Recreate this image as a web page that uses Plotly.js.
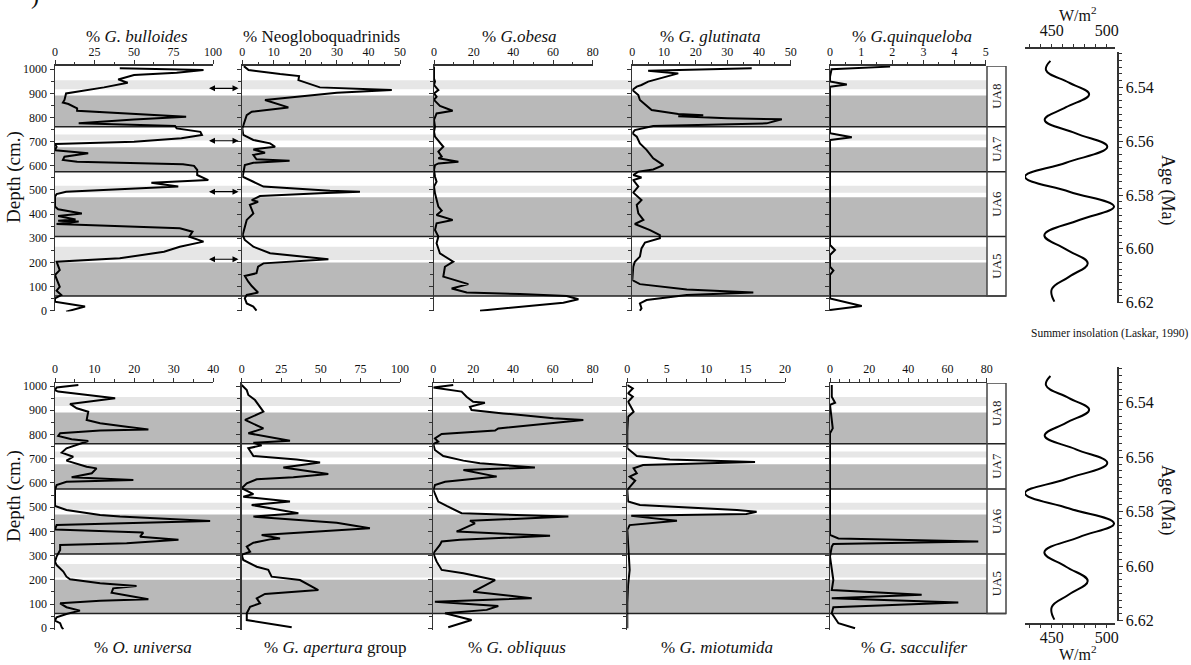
<!DOCTYPE html>
<html><head><meta charset="utf-8">
<script src="https://cdn.plot.ly/plotly-3.0.1.min.js"></script>
<style>html,body{margin:0;padding:0;background:#fff}#chart{width:1191px;height:665px}</style>
</head><body><div id="chart"></div>
<script>
// ---- data: [depth (cm), percent] ----
const bulloides = [[1004,41],[997,94],[986,77],[976,50],[958,40],[944,46],[925,31],[911,19],[900,7],[873,6],[862,5],[856,8.5],[838,14],[828,14],[806,75],[803,83],[792,50],[776,15],[765,76],[755,77],[741,92],[728,93],[714,80],[700,50],[690,0],[679,1],[665,0],[652,21],[638,6],[624,5],[617,14],[613,39],[607,81],[600,88],[583,90],[562,90],[555,92],[541,97],[530,61],[514,78],[493,7],[483,1],[472,0],[431,0],[420,2],[403,17],[392,2],[378,13],[373,2],[369,15],[359,1],[341,79],[327,87],[306,85],[286,94],[265,79],[244,69],[217,41],[203,1],[168,3],[148,0],[99,3],[83,1],[65,4],[51,0],[37,0],[17,19],[-4,7]];
const neoglobo = [[1013,0.5],[997,2],[980,12],[972,18],[955,17.8],[949,19.3],[925,24.6],[917,40.5],[914,47.4],[903,30],[873,7.2],[842,14.6],[824,3],[810,1.4],[769,0.3],[755,0],[728,0.3],[707,3.5],[693,8.8],[679,10.4],[668,3.5],[654,7.2],[645,3.5],[627,4.5],[621,15],[613,3.5],[603,0.8],[576,0.3],[555,0.1],[534,3.5],[514,6.7],[497,27.8],[493,37.3],[486,24.6],[475,5.6],[458,3],[451,5],[438,2.4],[403,3.5],[376,1.4],[348,0.8],[313,0.1],[293,0.8],[265,3.5],[238,8.8],[217,23.6],[213,27.3],[196,6.7],[182,5],[155,4.5],[144,0.8],[120,1.9],[102,3],[75,5],[65,1.4],[51,0.8],[30,1.4],[17,3.5],[0,4.5]];
const obesa = [[1011,0],[962,0],[949,0.5],[935,0],[914,2.2],[900,0],[886,1.3],[873,0],[848,3],[828,9.4],[817,1.3],[790,0],[762,0.5],[741,0],[721,0.5],[693,3],[679,4.7],[659,2.2],[638,3.9],[631,2.2],[617,12.3],[610,2.2],[603,0.5],[583,0],[555,0.5],[534,1.3],[514,0],[486,0.5],[458,1.3],[431,2.2],[414,3.9],[396,1.3],[376,9.4],[362,1.3],[334,0.5],[307,2.2],[279,1.3],[237,3],[203,9.7],[182,5.5],[141,4.7],[110,17.3],[92,8.9],[75,16.5],[69,43.4],[61,66.9],[47,72.8],[33,65.2],[0,23.2]];
const glutinata = [[1004,37.7],[994,5],[983,14.5],[962,8.7],[949,5],[935,2.9],[928,1.4],[914,0],[911,0.3],[893,1.9],[873,2.4],[848,4.5],[831,6.1],[815,14.5],[810,22.4],[805,14.5],[797,30],[793,47.2],[776,42.4],[765,6.6],[748,0.8],[735,0],[721,1.4],[693,2.4],[666,4.5],[631,6.6],[603,9.8],[585,6.6],[576,1.9],[562,0.3],[552,2.9],[541,0.3],[514,1.9],[489,0.3],[458,2.9],[438,1.4],[403,1.9],[376,3.5],[359,0.8],[334,5.6],[313,8.7],[300,8.7],[282,4],[258,2.9],[224,2.4],[203,0.8],[182,0.3],[127,0],[110,2.4],[88,17.2],[75,38.2],[65,17.2],[44,4.5],[30,2.4],[10,2.9],[0,2.4]];
const quinqueloba = [[1011,1.93],[1000,0.05],[969,0],[949,0],[937,0.54],[928,0],[735,0],[718,0.7],[707,0],[272,0],[251,0.16],[231,0],[182,0],[166,0.11],[148,0],[51,0],[19,1.02],[3,0]];
const universa = [[1004,5.9],[994,0.4],[983,0],[977,0.8],[949,15.2],[926,3.8],[908,5.5],[894,8.4],[860,8],[846,11.4],[832,18.1],[821,23.6],[816,11.4],[805,1.3],[794,0.8],[780,4.2],[773,8.4],[752,4.2],[743,2.9],[725,1.7],[708,4.6],[692,2.9],[667,8],[660,10.5],[640,9.3],[623,4.2],[612,19.8],[605,2.9],[591,0.4],[571,0],[505,0],[488,2.9],[468,11.4],[461,16.4],[443,39.2],[426,0.4],[408,0],[395,22.3],[378,21.5],[365,31.2],[351,18.1],[344,1.3],[323,1.3],[296,0.4],[275,0],[261,0.4],[234,2.1],[213,2.9],[202,3.8],[186,11.4],[175,20.6],[165,14.7],[147,14.3],[120,23.6],[114,11.4],[103,1.3],[87,2.9],[73,6.3],[59,2.9],[45,0.4],[32,0],[21,1.3],[4,1.7],[-4,2.1]];
const apertura = [[1004,0],[983,3.2],[963,4.2],[942,8.4],[894,13.7],[860,2.1],[825,13.7],[805,4.2],[774,30.5],[766,7.4],[755,12.6],[743,4.2],[711,7.4],[697,34.7],[684,49.5],[664,26.3],[637,54.7],[623,32.6],[615,9.5],[598,3.2],[578,0],[554,7.4],[543,1],[523,30.5],[509,6.3],[475,35.8],[461,7.4],[436,60],[413,81],[385,12.6],[371,24.2],[367,17.9],[353,7.4],[337,3.2],[316,5.3],[303,0],[282,1],[254,9.5],[241,16.8],[213,18.9],[199,36.8],[158,48.4],[142,14.7],[124,9.5],[103,11.6],[89,5.3],[62,3.2],[34,3.2],[4,31.6]];
const obliquus = [[1004,10],[994,0],[977,14.2],[956,16.7],[935,20],[931,25.9],[914,18.4],[901,19.2],[887,35.1],[867,60.3],[860,75.3],[825,32.6],[816,31],[802,4.2],[784,0.8],[770,2.5],[761,0],[736,0.8],[711,5],[692,15.1],[681,23.4],[664,51],[653,15.1],[626,31.8],[605,5.9],[591,0.8],[571,0],[523,2.5],[505,6.7],[475,14.2],[461,67.8],[444,18.4],[433,20.9],[399,11.7],[382,58.6],[365,13.4],[358,4.2],[344,3.3],[309,0],[275,1.7],[241,4.2],[227,15.1],[199,31],[151,20.1],[124,49.4],[110,0.8],[92,32.6],[76,26.8],[62,5.9],[34,19.2],[4,7.5]];
const miotumida = [[1004,0],[990,0.7],[970,0.1],[956,0.7],[935,0.1],[894,0.8],[873,0.1],[812,0],[743,0],[711,1.2],[697,5.4],[686,16.2],[674,2],[660,0.8],[640,1.2],[626,0.3],[609,1],[591,0.5],[571,0],[523,0.1],[509,1.6],[488,13.9],[481,16.4],[472,15.1],[464,0.5],[444,6.3],[426,0.3],[406,0],[241,0.3],[179,0.1],[103,0],[0,0]];
const sacculifer = [[1004,0.9],[956,0.9],[931,2.6],[922,0],[860,0.9],[825,1.4],[805,0],[653,0],[385,0],[371,4.3],[358,75.7],[348,1.7],[337,0.9],[296,0],[199,1.7],[158,0.9],[138,46.8],[124,0.9],[106,65.5],[87,1.7],[62,0.9],[21,4.3],[0,12.8]];
// summer insolation (Laskar 1990)
const insoAge = [6.5302,6.5336,6.5383,6.5426,6.5474,6.5521,6.5571,6.5621,6.568,6.5732,6.5788,6.5843,6.5893,6.5949,6.6002,6.6054,6.6103,6.6150,6.6196];
const insoW   = [448.8,444.8,465.7,484,463,443.6,472,500.5,463,425.7,466,506.6,475,443.3,463,482.7,466,450,452.4];
// units / bands (depth cm)
const unitNames = ['UA5','UA6','UA7','UA8'];
const unitBounds = [61,307,575,762];
const lightBands = [[917,955],[705,730],[489,518],[210,265]];
const darkBands = [[762,891],[575,677],[307,470],[61,200]];
const arrowDepths = [921,704,493,213];

const W=1191,H=665;
const px=x=>x/W, py=y=>1-y/H;
const FONT='Liberation Serif, Times New Roman, serif';

const panels=[
 {d:bulloides,x0:55,x1:213,max:100,dt:25,mdt:12.5,t:'% <i>G. bulloides</i>',tx:137},
 {d:neoglobo,x0:242.3,x1:400,max:50,dt:10,mdt:5,t:'% Neogloboquadrinids',tx:321},
 {d:obesa,x0:434,x1:592.7,max:80,dt:20,mdt:10,t:'% <i>G.obesa</i>',tx:519},
 {d:glutinata,x0:632.3,x1:790.7,max:50,dt:10,mdt:5,t:'% <i>G. glutinata</i>',tx:710},
 {d:quinqueloba,x0:830,x1:985.7,max:5,dt:1,mdt:0.5,t:'% <i>G.quinqueloba</i>',tx:912},
 {d:universa,x0:55,x1:213.3,max:40,dt:10,mdt:5,t:'% <i>O. universa</i>',tx:143},
 {d:apertura,x0:241.7,x1:400,max:100,dt:25,mdt:12.5,t:'% <i>G. apertura</i> group',tx:335},
 {d:obliquus,x0:433.3,x1:592.7,max:80,dt:20,mdt:10,t:'% <i>G. obliquus</i>',tx:517},
 {d:miotumida,x0:627.3,x1:785,max:20,dt:5,mdt:2.5,t:'% <i>G. miotumida</i>',tx:717},
 {d:sacculifer,x0:830,x1:986.7,max:80,dt:20,mdt:5,t:'% <i>G. sacculifer</i>',tx:914}
];
const rows=[
 {dom:[py(311.4),py(65.9)],range:[-3,1014],top:1014,titleY:36},
 {dom:[py(629.5),py(383.1)],range:[-5,1012],top:1012,titleY:647}
];
const AX='#333';
const layout={width:W,height:H,margin:{l:0,r:0,t:0,b:0},paper_bgcolor:'#fff',plot_bgcolor:'rgba(0,0,0,0)',
 showlegend:false,font:{family:FONT,color:'#111',size:12},shapes:[],annotations:[]};
function ann(o){return Object.assign({xref:'paper',yref:'paper',xanchor:'center',yanchor:'middle',showarrow:false},o);}
const traces=[];
panels.forEach((p,i)=>{
 const k=i+1, r=rows[i<5?0:1];
 const xs=k===1?'':k;
 traces.push({x:p.d.map(a=>a[1]),y:p.d.map(a=>a[0]),xaxis:'x'+xs,yaxis:'y'+xs,type:'scatter',mode:'lines',
   line:{color:'#000',width:2},hoverinfo:'skip'});
 layout['xaxis'+xs]={domain:[px(p.x0),px(p.x1)],range:[0,p.max],side:'top',anchor:'y'+xs,showline:true,linecolor:AX,linewidth:1.5,
   ticks:'outside',ticklen:4,tickcolor:AX,tick0:0,dtick:p.dt,minor:{dtick:p.mdt,ticks:'outside',ticklen:2.5,tickcolor:AX},
   showgrid:false,zeroline:false,tickfont:{size:12,family:FONT},fixedrange:true};
 layout['yaxis'+xs]={domain:r.dom,range:r.range,anchor:'x'+xs,showline:true,linecolor:AX,linewidth:1.5,
   ticks:'outside',ticklen:4,tickcolor:AX,tick0:0,dtick:100,minor:{dtick:50,ticks:'outside',ticklen:3,tickcolor:AX},
   showticklabels:(k===1||k===6),showgrid:false,zeroline:false,tickfont:{size:12,family:FONT},fixedrange:true};
 layout.annotations.push(ann({text:p.t,x:px(p.tx),y:py(r.titleY),font:{size:17,family:FONT,color:'#111'}}));
});
// bands, lines, unit boxes
rows.forEach((r,ri)=>{
 const yr=ri===0?'y':'y6';
 lightBands.forEach(b=>layout.shapes.push({type:'rect',xref:'paper',yref:yr,x0:px(55),x1:px(987),y0:b[0],y1:b[1],fillcolor:'#e6e6e6',line:{width:0},layer:'below'}));
 darkBands.forEach(b=>layout.shapes.push({type:'rect',xref:'paper',yref:yr,x0:px(55),x1:px(987),y0:b[0],y1:b[1],fillcolor:'#b9b9b9',line:{width:0},layer:'below'}));
 layout.shapes.push({type:'rect',xref:'paper',yref:yr,x0:px(987),x1:px(1006),y0:unitBounds[0],y1:r.top,fillcolor:'rgba(0,0,0,0)',line:{color:'#444',width:1.5},layer:'above'});
 unitBounds.forEach(b=>layout.shapes.push({type:'line',xref:'paper',yref:yr,x0:px(55),x1:px(1006),y0:b,y1:b,line:{color:'#222',width:1.5},layer:'below'}));
 unitNames.forEach((u,j)=>{
   const lo=unitBounds[j], hi=j<3?unitBounds[j+1]:r.top;
   layout.annotations.push(ann({text:u,yref:yr,x:px(996.5),y:(lo+hi)/2,textangle:-90,font:{size:13,family:FONT,color:'#222'}}));
 });
 layout.annotations.push(ann({text:'Depth (cm.)',x:px(14),y:py(ri===0?177:496),textangle:-90,font:{size:19,family:FONT,color:'#111'}}));
});
arrowDepths.forEach(d=>layout.annotations.push({text:'',xref:'paper',yref:'y',x:px(238.5),y:d,axref:'pixel',ayref:'pixel',ax:-31,ay:0,
  showarrow:true,arrowhead:2,startarrowhead:2,arrowside:'end+start',arrowsize:1,startarrowsize:1,arrowwidth:1.2,arrowcolor:'#000',standoff:0,startstandoff:0}));
// insolation panels
const ins=[
 {xs:'11',ydom:[py(302.7),py(52.3)],xpos:py(47),side:'top',wY:14,ageY:190,stand:2},
 {xs:'12',ydom:[py(620.7),py(367.3)],xpos:py(623.3),side:'bottom',wY:653,ageY:500,stand:-4}
];
ins.forEach(q=>{
 traces.push({x:insoW,y:insoAge,xaxis:'x'+q.xs,yaxis:'y'+q.xs,type:'scatter',mode:'lines',line:{color:'#000',width:2,shape:'spline',smoothing:1.2},hoverinfo:'skip'});
 layout['xaxis'+q.xs]={domain:[px(1025),px(1115)],range:[425.7,507.5],side:q.side,anchor:'free',position:q.xpos,showline:true,linecolor:AX,linewidth:1.5,
   ticks:'outside',ticklen:3,tickcolor:AX,tick0:450,dtick:50,minor:{dtick:10,ticks:'outside',ticklen:3,tickcolor:AX},showgrid:false,zeroline:false,
   ticklabelstandoff:q.stand,tickfont:{size:16,family:FONT},fixedrange:true};
 layout['yaxis'+q.xs]={domain:q.ydom,range:[6.62,6.527],anchor:'free',position:px(1117),side:'right',showline:true,linecolor:AX,linewidth:1.5,
   ticks:'outside',ticklen:4,tickcolor:AX,tick0:6.54,dtick:0.02,tickformat:'.2f',minor:{dtick:0.0025,ticks:'outside',ticklen:3,tickcolor:AX},
   showgrid:false,zeroline:false,tickfont:{size:16,family:FONT},fixedrange:true};
 layout.annotations.push(ann({text:'W/m<sup>2</sup>',x:px(1078),y:py(q.wY),font:{size:16,family:FONT,color:'#111'}}));
 layout.annotations.push(ann({text:'Age (Ma)',x:px(1168),y:py(q.ageY),textangle:90,font:{size:18,family:FONT,color:'#111'}}));
});
layout.annotations.push(ann({text:'Summer insolation (Laskar, 1990)',x:px(1190),y:py(333),xanchor:'right',font:{size:11.5,family:FONT,color:'#111'}}));
layout.annotations.push(ann({text:')',x:px(35),y:py(-4),font:{size:24,family:FONT,color:'#111'}}));
Plotly.newPlot('chart',traces,layout,{staticPlot:true,displayModeBar:false});
</script></body></html>
